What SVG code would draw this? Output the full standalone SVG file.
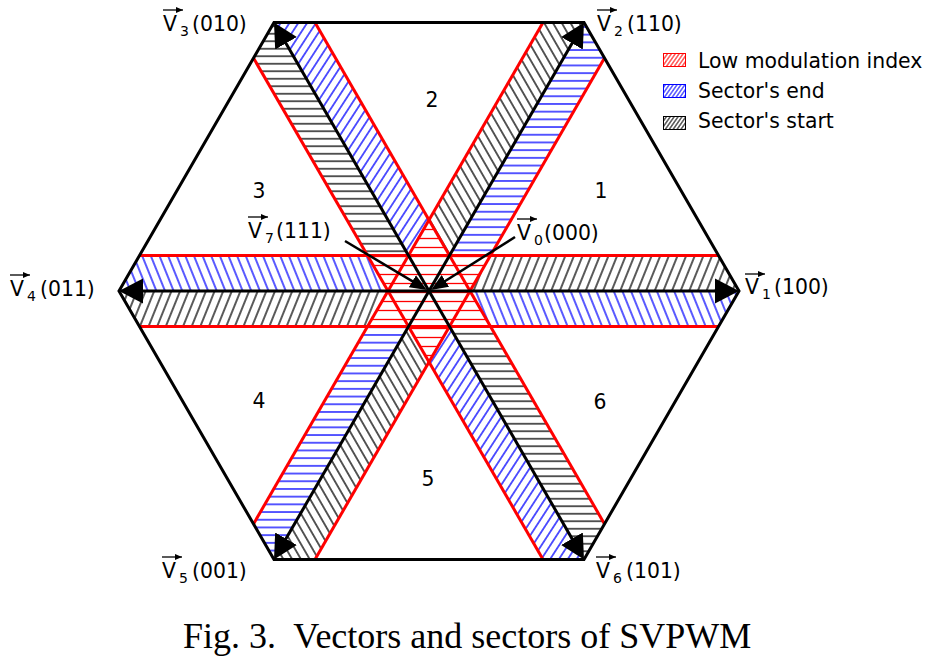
<svg xmlns="http://www.w3.org/2000/svg" width="931" height="666" viewBox="0 0 931 666">
<style>
.lbl{font-family:"DejaVu Sans","Verdana","Liberation Sans",sans-serif;font-size:20.4px;fill:#000}
.sub{font-family:"DejaVu Sans","Verdana","Liberation Sans",sans-serif;font-size:14px;fill:#000}
.num{font-family:"DejaVu Sans","Verdana","Liberation Sans",sans-serif;font-size:20.4px;fill:#000;text-anchor:middle}
.cap{font-family:"Liberation Serif","Times New Roman",serif;font-size:36px;fill:#000}
.edge{stroke:#ff0000;stroke-width:3;fill:none;stroke-linecap:butt}
.vec{stroke:#000;stroke-width:3;fill:none}
.ptr{stroke:#000;stroke-width:2.5;fill:none}
.ov{stroke:#000;stroke-width:1.3;fill:none}
.hk{stroke:#000;stroke-width:1.3}
.hb{stroke:#0000ff;stroke-width:1.3}
.hr{stroke:#ff0000;stroke-width:1.3}
</style>
<defs>
<pattern id="pHk" patternUnits="userSpaceOnUse" width="10" height="8" patternTransform="rotate(-68)"><line class="hk" x1="0" y1="4" x2="10" y2="4"/></pattern>
<pattern id="pHb" patternUnits="userSpaceOnUse" width="10" height="8" patternTransform="rotate(68)"><line class="hb" x1="0" y1="4" x2="10" y2="4"/></pattern>
<pattern id="p60b" patternUnits="userSpaceOnUse" width="10" height="7.7"><line class="hb" x1="0" y1="3.85" x2="10" y2="3.85"/></pattern>
<pattern id="p60k" patternUnits="userSpaceOnUse" width="10" height="7.6" patternTransform="rotate(60)"><line class="hk" x1="0" y1="3.8" x2="10" y2="3.8"/></pattern>
<pattern id="p120k" patternUnits="userSpaceOnUse" width="10" height="7.5"><line class="hk" x1="0" y1="3.75" x2="10" y2="3.75"/></pattern>
<pattern id="p120b" patternUnits="userSpaceOnUse" width="10" height="7.4" patternTransform="rotate(-57)"><line class="hb" x1="0" y1="3.7" x2="10" y2="3.7"/></pattern>
<pattern id="pRed" patternUnits="userSpaceOnUse" width="10" height="9"><line class="hr" x1="0" y1="4.5" x2="10" y2="4.5"/></pattern>
<pattern id="lgR" patternUnits="userSpaceOnUse" width="6" height="3.2" patternTransform="rotate(-55)"><line x1="0" y1="1.6" x2="6" y2="1.6" stroke="#ff0000" stroke-width="1"/></pattern>
<pattern id="lgB" patternUnits="userSpaceOnUse" width="6" height="3.2" patternTransform="rotate(-55)"><line x1="0" y1="1.6" x2="6" y2="1.6" stroke="#0000ff" stroke-width="1"/></pattern>
<pattern id="lgK" patternUnits="userSpaceOnUse" width="6" height="3.2" patternTransform="rotate(-55)"><line x1="0" y1="1.6" x2="6" y2="1.6" stroke="#000" stroke-width="1"/></pattern>
<marker id="ah" markerUnits="userSpaceOnUse" markerWidth="26" markerHeight="26" viewBox="0 0 26 26" refX="14" refY="13" orient="auto"><path d="M0,0.5 L24,13 L0,25.5 z" fill="#000"/></marker>
<marker id="ahp" markerUnits="userSpaceOnUse" markerWidth="18" markerHeight="16" viewBox="0 0 18 16" refX="11" refY="8" orient="auto"><path d="M0,1 L17,8 L0,15 z" fill="#000"/></marker>
<marker id="ahs" markerUnits="userSpaceOnUse" markerWidth="8" markerHeight="8" viewBox="0 0 8 8" refX="7" refY="4" orient="auto"><path d="M0,1 L7,4 L0,7 z" fill="#000"/></marker>
</defs>
<rect x="0" y="0" width="931" height="666" fill="#fff"/>

<g id="bands">
  <g id="band-v1">
    <polygon points="469.99,291 739,291 718.5,255.5 490.49,255.5" fill="url(#pHk)"/>
    <polygon points="469.99,291 739,291 718.5,326.5 490.49,326.5" fill="url(#pHb)"/>
  </g>
  <g id="band-v4">
    <polygon points="388.01,291 119,291 139.5,326.5 367.51,326.5" fill="url(#pHk)"/>
    <polygon points="388.01,291 119,291 139.5,255.5 367.51,255.5" fill="url(#pHb)"/>
  </g>
  <g id="band-v2">
    <polygon points="449.5,255.5 584,22.53 543.01,22.54 429,220" fill="url(#p60k)"/>
    <polygon points="449.5,255.5 584,22.53 604.49,58.04 490.49,255.5" fill="url(#p60b)"/>
  </g>
  <g id="band-v5">
    <polygon points="408.5,326.5 274,559.47 314.99,559.46 429,362" fill="url(#p60k)"/>
    <polygon points="408.5,326.5 274,559.47 253.51,523.96 367.51,326.5" fill="url(#p60b)"/>
  </g>
  <g id="band-v3">
    <polygon points="408.5,255.5 274,22.53 253.51,58.04 367.51,255.5" fill="url(#p120k)"/>
    <polygon points="408.5,255.5 274,22.53 314.99,22.54 429,220" fill="url(#p120b)"/>
  </g>
  <g id="band-v6">
    <polygon points="449.5,326.5 584,559.47 604.49,523.96 490.49,326.5" fill="url(#p120k)"/>
    <polygon points="449.5,326.5 584,559.47 543.01,559.46 429,362" fill="url(#p120b)"/>
  </g>
  <g id="low-modulation">
    <polygon points="490.49,255.5 449.5,255.5 429,220 408.5,255.5 367.51,255.5 388.01,291 367.51,326.5 408.5,326.5 429,362 449.5,326.5 490.49,326.5 469.99,291" fill="url(#pRed)"/>
  </g>
  <g id="band-edges">
    <line class="edge" x1="139.5" y1="255.5" x2="718.5" y2="255.5"/>
    <line class="edge" x1="139.5" y1="326.5" x2="718.5" y2="326.5"/>
    <line class="edge" x1="543.01" y1="22.54" x2="253.51" y2="523.96"/>
    <line class="edge" x1="604.49" y1="58.04" x2="314.99" y2="559.46"/>
    <line class="edge" x1="253.51" y1="58.04" x2="543.01" y2="559.46"/>
    <line class="edge" x1="314.99" y1="22.54" x2="604.49" y2="523.96"/>
  </g>
</g>

<g id="hexagon">
  <polygon points="739,291 584,22.53 274,22.53 119,291 274,559.47 584,559.47" fill="none" stroke="#000" stroke-width="3" stroke-linejoin="miter"/>
</g>

<g id="connectors">
  <line class="vec" x1="429" y1="291" x2="729" y2="291" marker-end="url(#ah)"/>
  <line class="vec" x1="429" y1="291" x2="579" y2="31.19" marker-end="url(#ah)"/>
  <line class="vec" x1="429" y1="291" x2="279" y2="31.19" marker-end="url(#ah)"/>
  <line class="vec" x1="429" y1="291" x2="129" y2="291" marker-end="url(#ah)"/>
  <line class="vec" x1="429" y1="291" x2="279" y2="550.81" marker-end="url(#ah)"/>
  <line class="vec" x1="429" y1="291" x2="579" y2="550.81" marker-end="url(#ah)"/>
  <line class="ptr" x1="345" y1="241" x2="421.8" y2="286.9" marker-end="url(#ahp)"/>
  <line class="ptr" x1="515" y1="237" x2="436.1" y2="286.8" marker-end="url(#ahp)"/>
</g>

<g id="label-v1"><line class="ov" x1="745" y1="274" x2="765" y2="274" marker-end="url(#ahs)"/><text class="lbl" x="745" y="294">V</text><text class="sub" x="762" y="299">1</text><text class="lbl" x="774" y="294">(100)</text></g>
<g id="label-v2"><line class="ov" x1="597" y1="10" x2="617" y2="10" marker-end="url(#ahs)"/><text class="lbl" x="597" y="31">V</text><text class="sub" x="614" y="36">2</text><text class="lbl" x="627" y="31">(110)</text></g>
<g id="label-v3"><line class="ov" x1="163" y1="10" x2="183" y2="10" marker-end="url(#ahs)"/><text class="lbl" x="163" y="31">V</text><text class="sub" x="180" y="36">3</text><text class="lbl" x="192" y="31">(010)</text></g>
<g id="label-v4"><line class="ov" x1="10" y1="275" x2="30" y2="275" marker-end="url(#ahs)"/><text class="lbl" x="10" y="296">V</text><text class="sub" x="27" y="301">4</text><text class="lbl" x="40" y="296">(011)</text></g>
<g id="label-v5"><line class="ov" x1="162" y1="557" x2="182" y2="557" marker-end="url(#ahs)"/><text class="lbl" x="162" y="578">V</text><text class="sub" x="179" y="583">5</text><text class="lbl" x="192" y="578">(001)</text></g>
<g id="label-v6"><line class="ov" x1="596" y1="557" x2="616" y2="557" marker-end="url(#ahs)"/><text class="lbl" x="596" y="578">V</text><text class="sub" x="613" y="583">6</text><text class="lbl" x="626" y="578">(101)</text></g>
<g id="label-v7"><line class="ov" x1="248" y1="217" x2="268" y2="217" marker-end="url(#ahs)"/><text class="lbl" x="248" y="238">V</text><text class="sub" x="265" y="243">7</text><text class="lbl" x="276" y="238">(111)</text></g>
<g id="label-v0"><line class="ov" x1="517" y1="219" x2="537" y2="219" marker-end="url(#ahs)"/><text class="lbl" x="517" y="240">V</text><text class="sub" x="534" y="245">0</text><text class="lbl" x="544" y="240">(000)</text></g>

<g id="sector-numbers">
  <text class="num" x="601" y="198">1</text>
  <text class="num" x="432" y="107">2</text>
  <text class="num" x="259" y="198">3</text>
  <text class="num" x="259" y="408">4</text>
  <text class="num" x="428" y="486">5</text>
  <text class="num" x="600" y="409">6</text>
</g>

<g id="legend">
  <rect x="663.5" y="53.5" width="22" height="13" fill="url(#lgR)" stroke="#ff0000" stroke-width="1"/>
  <text class="lbl" x="698" y="68">Low modulation index</text>
  <rect x="663.5" y="84.5" width="22" height="13" fill="url(#lgB)" stroke="#0000ff" stroke-width="1"/>
  <text class="lbl" x="698" y="98">Sector's end</text>
  <rect x="663.5" y="116.5" width="22" height="13" fill="url(#lgK)" stroke="#000" stroke-width="1"/>
  <text class="lbl" x="698" y="128">Sector's start</text>
</g>

<g id="caption">
  <text class="cap" x="183" y="648" xml:space="preserve">Fig. 3.  Vectors and sectors of SVPWM</text>
</g>
</svg>
